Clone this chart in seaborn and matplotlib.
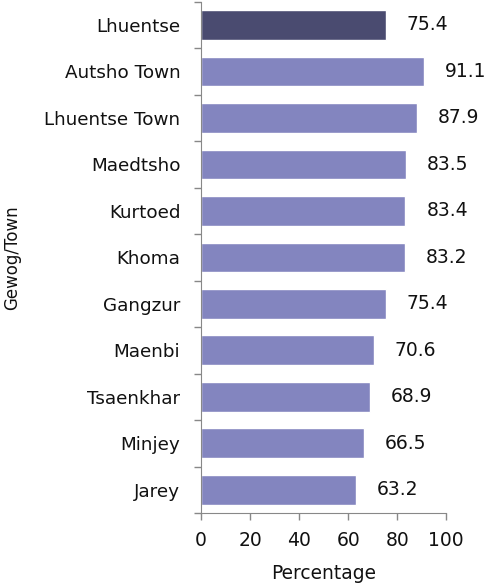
import numpy as np
import pandas as pd
import matplotlib
matplotlib.use('Agg')
import matplotlib.pyplot as plt
import seaborn as sns

# data
places = ['Lhuentse', 'Autsho Town', 'Lhuentse Town', 'Maedtsho', 'Kurtoed', 'Khoma',
          'Gangzur', 'Maenbi', 'Tsaenkhar', 'Minjey', 'Jarey']
pct = [75.4, 91.1, 87.9, 83.5, 83.4, 83.2, 75.4, 70.6, 68.9, 66.5, 63.2]

df = pd.DataFrame({'place': places, 'pct': pct})
df['group'] = ['dzongkhag'] + ['gewog'] * (len(places) - 1)

sns.set_style('white')
plt.rcParams['font.family'] = ['DejaVu Sans']

fig = plt.figure(figsize=(4.93, 5.83), dpi=100)
ax = fig.add_axes([0.408, 0.12, 0.497, 0.877])

sns.barplot(data=df, y='place', x='pct', hue='group', orient='h',
            palette={'dzongkhag': '#4a4b70', 'gewog': '#8385bf'},
            width=0.64, dodge=False, legend=False, ax=ax, saturation=1)

for i, v in enumerate(pct):
    ax.text(v + 8.5, i, f'{v:.1f}', va='center', ha='left', fontsize=13.5, color='#111111')

ax.set_xlim(0, 100)
ax.set_ylim(len(places) - 0.5, -0.5)
ax.set_xticks(range(0, 101, 20))
ax.set_yticks(np.arange(-0.5, len(places), 1), minor=False)
ax.set_yticklabels([])
ax.set_yticks(range(len(places)), minor=True)
ax.set_yticklabels(places, minor=True, fontsize=13.2, color='#111111')
ax.tick_params(axis='y', which='minor', left=False, length=0, pad=15)
ax.tick_params(axis='y', which='major', left=True, length=5, width=1,
               color='#888888', direction='out')
ax.tick_params(axis='x', bottom=True, length=5, width=1, color='#888888',
               direction='out', labelsize=13.5, labelcolor='#111111', pad=8)

for s in ['top', 'right']:
    ax.spines[s].set_visible(False)
for s in ['left', 'bottom']:
    ax.spines[s].set_color('#888888')

ax.set_xlabel('Percentage', fontsize=13.4, labelpad=10, color='#111111')
ax.set_ylabel('Gewog/Town', fontsize=12, color='#111111')
ax.yaxis.set_label_coords(-0.735, 0.5)

fig.savefig('out.png', dpi=100)
